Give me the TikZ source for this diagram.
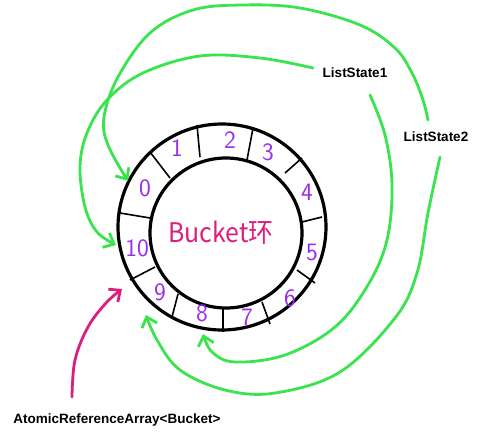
\documentclass[tikz,border=0pt]{standalone}
\usepackage{fontspec}
\setmainfont{Liberation Sans}
\newfontfamily\cjk{Noto Sans CJK SC}
\usetikzlibrary{arrows.meta}
\definecolor{lgreen}{RGB}{58,228,78}
\definecolor{dpurple}{RGB}{155,45,235}
\definecolor{mag}{RGB}{222,30,125}
\tikzset{
  ringline/.style={line width=3.2pt, black},
  divline/.style={line width=1.6pt, black},
  digit/.style={text=dpurple, font=\sffamily\fontsize{25}{25}\selectfont, inner sep=0pt},
  lbl/.style={font=\bfseries\fontsize{13.5}{13.5}\selectfont, inner sep=1pt},
  garrow/.style={lgreen, line width=2.8pt, line cap=round, line join=round, -{Straight Barb[length=9pt,width=16pt,line width=2.8pt]}},
  marrow/.style={mag, line width=2.8pt, line cap=round, line join=round, -{Straight Barb[length=9pt,width=16pt,line width=2.8pt]}}
}
\begin{document}
\begin{tikzpicture}[x=1pt,y=-1pt]
\useasboundingbox[fill=white] (0,0) rectangle (482,444);
% ring
\draw[ringline] (222,227) ellipse [x radius=104, y radius=103];
\draw[ringline] (226,233) ellipse [x radius=76, y radius=75];
% dividers
\draw[divline] (150,152) -- (170,178);
\draw[divline] (197,125) -- (200,157);
\draw[divline] (253,128) -- (247,160);
\draw[divline] (302,158) -- (285,173);
\draw[divline] (322,217) -- (302,222);
\draw[divline] (315,283) -- (297,270);
\draw[divline] (270,324) -- (262,302);
\draw[divline] (223,332) -- (223,307);
\draw[divline] (172,317) -- (178,294);
\draw[divline] (130,280) -- (155,267);
\draw[divline] (120,213) -- (150,218);
% digits
\node[digit] (d0) at (145,188) {0};
\node[digit] (d1) at (177,148) {1};
\node[digit] (d2) at (230,140) {2};
\node[digit] (d3) at (268,152) {3};
\node[digit] (d4) at (307,192) {4};
\node[digit] (d5) at (312,252) {5};
\node[digit] (d6) at (290,298) {6};
\node[digit] (d7) at (247,317) {7};
\node[digit] (d8) at (202,313) {8};
\node[digit] (d9) at (160,292) {9};
\node[digit] (d10) at (137,248) {10};
% center text
\node[text=mag, font=\cjk\fontsize{27}{27}\selectfont, inner sep=0pt, xscale=0.92] (bk) at (221,233) {Bucket环};
% labels
\node[lbl] (ls1) at (355,73) {ListState1};
\node[lbl] (ls2) at (436,137) {ListState2};
\node[lbl] (ara) at (117,420) {AtomicReferenceArray<Bucket>};
% target coordinates
\coordinate (t0) at (128,181);
\coordinate (t10) at (116,245);
\coordinate (t8) at (203,334);
\coordinate (t9) at (146,315);
\coordinate (tm) at (122,289);
\coordinate (s1a) at (313,68);
\coordinate (s1b) at (370,95);
\coordinate (s2a) at (428,120);
\coordinate (s2b) at (440,157);
\coordinate (sm) at (72,397);
% arrows
\draw[garrow] plot[smooth, tension=0.6] coordinates {(s1a) (260,58) (200,56) (143,73) (107,100) (87,133) (80,167) (85,207) (97,232) (t10)};
\draw[garrow] plot[smooth, tension=0.6] coordinates {(s2a) (423,100) (412,73) (395,48) (360,25) (300,8) (243,5) (193,10) (150,33) (118,77) (104,117) (108,145) (t0)};
\draw[garrow] plot[smooth, tension=0.6] coordinates {(s1b) (385,135) (392,185) (387,240) (368,285) (335,327) (285,355) (235,362) (212,352) (t8)};
\draw[garrow] plot[smooth, tension=0.6] coordinates {(s2b) (428,213) (417,273) (395,318) (340,372) (275,393) (225,390) (180,370) (157,340) (t9)};
\draw[marrow] plot[smooth, tension=0.6] coordinates {(sm) (75,360) (88,327) (106,303) (tm)};
\end{tikzpicture}
\end{document}
